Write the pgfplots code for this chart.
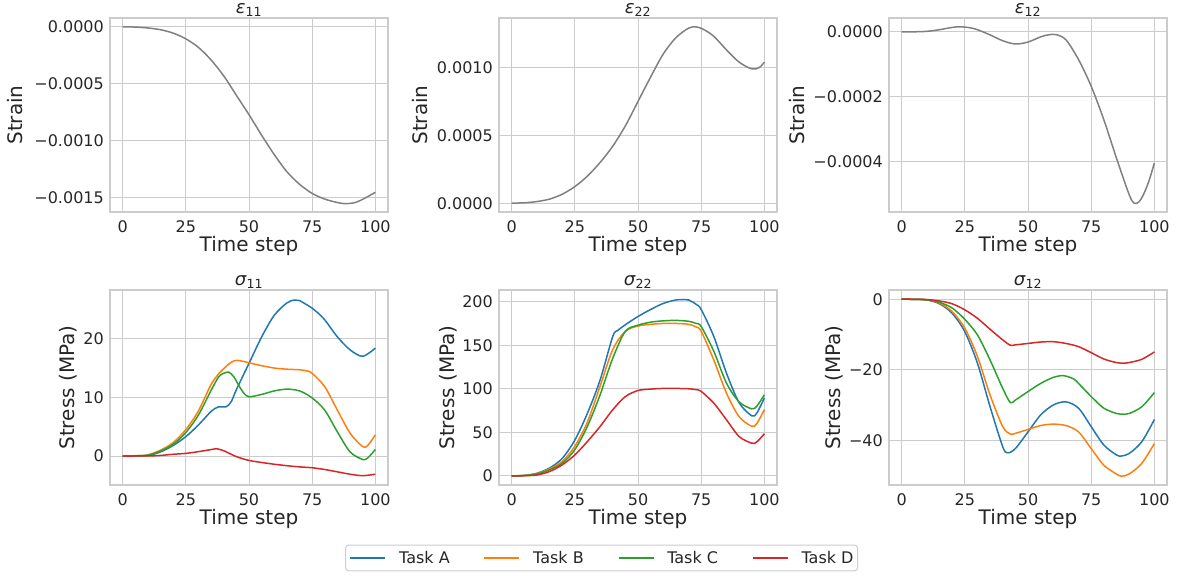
\documentclass[border=0pt]{standalone}
\usepackage{pgfplots}
\pgfplotsset{compat=1.18}
\usepackage{fontspec}
\setmainfont{DejaVu Sans}
\definecolor{gridc}{RGB}{204,204,204}
\definecolor{txt}{RGB}{38,38,38}
\definecolor{tA}{HTML}{1F77B4}
\definecolor{tB}{HTML}{FF7F0E}
\definecolor{tC}{HTML}{2CA02C}
\definecolor{tD}{HTML}{D62728}
\definecolor{gline}{HTML}{808080}
\pgfplotsset{
 myax/.style={
  scale only axis, width=278pt, height=194pt,
  xmin=-5, xmax=105, xtick={0,25,50,75,100},
  scaled y ticks=false, scaled x ticks=false,
  grid=major, major grid style={gridc, line width=1pt},
  axis line style={gridc, line width=1.25pt},
  major tick length=0pt,
  /pgf/number format/assume math mode=true,
  tick label style={font=\fontsize{16}{19}\selectfont, text=txt},
  xticklabel style={inner sep=0pt, anchor=north, yshift=-8.5pt},
  yticklabel style={inner sep=0pt, anchor=east, xshift=-6pt},
  label style={font=\fontsize{20}{24}\selectfont, text=txt},
  title style={font=\fontsize{18}{21}\selectfont, text=txt, at={(0.5,1)}, anchor=south, yshift=-5pt, inner sep=0pt},
  xlabel={Time step}, xlabel style={at={(axis description cs:0.5,-0.175)}, anchor=center},
  every axis plot/.append style={line width=1.5pt, smooth, no markers},
 }
}
\begin{document}
\begin{tikzpicture}
\path[use as bounding box] (0,0) rectangle (1186pt,-576pt);
% ---------- eps11
\begin{axis}[myax, at={(110pt,-212pt)}, anchor=south west,
  title={\textit{ε}\textsubscript{11}},
  ymin=-0.001623, ymax=0.0000775,
  ytick={-0.0015,-0.001,-0.0005,0}, yticklabels={−0.0015,−0.0010,−0.0005,0.0000},
  ylabel={Strain}, ylabel style={at={(axis description cs:-0.342,0.5)}, anchor=center}]
\addplot[gline] coordinates {(0,0) (5,-0.000002) (10,-0.00001) (15,-0.000025) (20,-0.000055) (25,-0.000105) (30,-0.00018) (35,-0.00029) (40,-0.00043) (45,-0.0006) (50,-0.00077) (55,-0.00095) (60,-0.00112) (65,-0.00127) (70,-0.00138) (75,-0.00146) (80,-0.00151) (85,-0.00154) (88,-0.00155) (92,-0.00154) (96,-0.0015) (100,-0.00145)};
\end{axis}
% ---------- eps22
\begin{axis}[myax, at={(499pt,-212pt)}, anchor=south west,
  title={\textit{ε}\textsubscript{22}},
  ymin=-0.000065, ymax=0.001365,
  ytick={0,0.0005,0.001}, yticklabels={0.0000,0.0005,0.0010},
  ylabel={Strain}, ylabel style={at={(axis description cs:-0.283,0.5)}, anchor=center}]
\addplot[gline] coordinates {(0,0) (5,0.000003) (10,0.000012) (15,0.00003) (20,0.000066) (25,0.000122) (30,0.0002) (35,0.0003) (40,0.00042) (45,0.00057) (50,0.00075) (55,0.00093) (60,0.0011) (65,0.00122) (70,0.00129) (73,0.0013) (76,0.00128) (80,0.00123) (85,0.00113) (90,0.00104) (95,0.00099) (98,0.001) (100,0.00104)};
\end{axis}
% ---------- eps12
\begin{axis}[myax, at={(889pt,-212pt)}, anchor=south west,
  title={\textit{ε}\textsubscript{12}},
  ymin=-0.000554, ymax=0.000043,
  ytick={-0.0004,-0.0002,0}, yticklabels={−0.0004,−0.0002,0.0000},
  ylabel={Strain}, ylabel style={at={(axis description cs:-0.33,0.5)}, anchor=center}]
\addplot[gline] coordinates {(0,0) (5,0.0000005) (10,0.000002) (15,0.000007) (20,0.000014) (23,0.000016) (27,0.000013) (30,0.000007) (35,-0.000009) (40,-0.000027) (45,-0.000037) (50,-0.000031) (55,-0.000015) (58,-0.000009) (61,-0.000008) (65,-0.000024) (70,-0.000085) (75,-0.000167) (80,-0.00027) (85,-0.000388) (90,-0.0005) (92,-0.000527) (94,-0.000522) (96,-0.000495) (98,-0.000455) (100,-0.000403)};
\end{axis}
% ---------- sig11
\begin{axis}[myax, at={(110pt,-485pt)}, anchor=south west, height=195pt,
  title={\textit{σ}\textsubscript{11}},
  ymin=-4.94, ymax=28.3,
  ytick={0,10,20}, yticklabels={0,10,20},
  ylabel={Stress (MPa)}, ylabel style={at={(axis description cs:-0.151,0.5)}, anchor=center}]
\addplot[tA] coordinates {(0,0) (5,0.02) (10,0.1) (15,0.7) (20,1.8) (25,3.3) (30,5.3) (35,7.6) (38,8.4) (41,8.4) (43,9.3) (45,11.3) (50,15.8) (55,20.3) (60,24) (65,26.1) (68,26.6) (70,26.5) (75,25.2) (77,24.5) (80,23.2) (85,20.3) (90,18.1) (95,17.0) (100,18.4)};
\addplot[tB] coordinates {(0,0) (5,0.05) (10,0.2) (15,1.0) (20,2.3) (25,4.5) (30,7.7) (35,12.2) (38,14.0) (40,14.9) (43,16.0) (45,16.3) (47,16.2) (50,15.9) (55,15.4) (60,15.0) (65,14.8) (70,14.7) (73,14.5) (75,14.1) (80,11.8) (85,7.8) (90,3.9) (95,1.6) (97,1.8) (100,3.6)};
\addplot[tC] coordinates {(0,0) (5,0.04) (10,0.15) (15,0.85) (20,2.0) (25,4.0) (30,7.0) (35,11.2) (38,13.5) (40,14.1) (42,14.3) (44,13.5) (46,12.0) (48,10.7) (50,10.1) (55,10.5) (60,11.1) (65,11.4) (70,11.1) (75,9.9) (80,7.8) (85,4.1) (90,0.7) (95,-0.6) (97,-0.3) (100,1.1)};
\addplot[tD] coordinates {(0,0) (10,0.02) (15,0.1) (20,0.3) (25,0.45) (30,0.75) (35,1.1) (37,1.25) (40,0.9) (45,-0.1) (50,-0.75) (55,-1.1) (60,-1.4) (65,-1.65) (70,-1.85) (75,-2.0) (80,-2.3) (85,-2.7) (90,-3.1) (95,-3.35) (100,-3.1)};
\end{axis}
% ---------- sig22
\begin{axis}[myax, at={(499pt,-485pt)}, anchor=south west, height=195pt,
  title={\textit{σ}\textsubscript{22}},
  ymin=-10.5, ymax=213.4,
  ytick={0,50,100,150,200}, yticklabels={0,50,100,150,200},
  ylabel={Stress (MPa)}, ylabel style={at={(axis description cs:-0.183,0.5)}, anchor=center},
  legend columns=4,
  legend image code/.code={\draw[#1] (0pt,0pt) -- (35pt,0pt);},
  legend style={at={(axis description cs:0.369,-0.374)}, anchor=center, draw=gridc, line width=1pt, rounded corners=3pt,
    font=\fontsize{16}{19}\selectfont, text=txt, inner xsep=4pt, inner ysep=4pt,
    nodes={inner xsep=0pt},
    /tikz/every odd column/.append style={column sep=13pt},
    /tikz/every even column/.append style={column sep=34pt}}]
\addplot[tA] coordinates {(0,0) (5,0.5) (10,3) (15,9) (20,20) (25,41) (30,72) (35,110) (40,160) (42,167) (45,173.5) (50,183) (55,191) (60,198) (65,202) (68,202.5) (70,202) (73,197) (75,191) (80,160) (85,118) (90,84) (95,69) (97,72) (100,89.5)};
\addlegendentry{Task A}
\addplot[tB] coordinates {(0,0) (5,0.4) (10,2.5) (15,8) (20,16.5) (25,34) (30,62) (35,103) (40,145) (45,166) (50,172) (55,174) (60,175) (65,175) (70,174) (73,171) (75,166) (80,133) (85,95) (90,68) (95,57) (97,60) (100,76)};
\addlegendentry{Task B}
\addplot[tC] coordinates {(0,0) (5,0.3) (10,2) (15,7) (20,14.5) (25,30) (30,57) (35,93) (40,135) (45,166) (50,173) (55,176.5) (60,178) (65,178.5) (70,177.5) (73,175) (75,171.5) (80,143) (85,106.5) (90,85) (95,77) (97,80) (100,93)};
\addlegendentry{Task C}
\addplot[tD] coordinates {(0,0) (5,0.2) (10,1) (15,5) (20,12.6) (25,24) (30,39.5) (35,56.7) (40,75.9) (45,91) (50,98) (55,99.6) (60,100.4) (65,100.4) (70,100) (73,99) (75,97) (80,83.5) (85,64.4) (90,45.2) (95,37.5) (97,39) (100,48.3)};
\addlegendentry{Task D}
\end{axis}
% ---------- sig12
\begin{axis}[myax, at={(889pt,-485pt)}, anchor=south west, height=195pt,
  title={\textit{σ}\textsubscript{12}},
  ymin=-52.5, ymax=2.6,
  ytick={-40,-20,0}, yticklabels={−40,−20,0},
  ylabel={Stress (MPa)}, ylabel style={at={(axis description cs:-0.197,0.5)}, anchor=center}]
\addplot[tA] coordinates {(0,0) (5,-0.03) (10,-0.2) (15,-1.3) (20,-4) (25,-9.2) (30,-18.1) (35,-30.4) (40,-41.7) (42,-43.4) (45,-42.2) (50,-37.5) (55,-32.7) (60,-29.9) (65,-29) (70,-30.8) (75,-36) (80,-41.2) (85,-44) (87,-44.3) (90,-43.6) (95,-40.3) (100,-34)};
\addplot[tB] coordinates {(0,0) (5,-0.03) (10,-0.2) (15,-1.1) (20,-3.5) (25,-8.2) (30,-16.2) (35,-27.1) (40,-36) (43,-38.1) (45,-37.9) (50,-36.8) (55,-35.7) (60,-35.3) (65,-35.7) (70,-37.5) (75,-42.2) (80,-46.9) (85,-49.4) (87,-50) (90,-49.4) (95,-46.4) (100,-40.8)};
\addplot[tC] coordinates {(0,0) (5,-0.03) (10,-0.2) (15,-0.9) (20,-2.5) (25,-5.7) (30,-10.1) (35,-17.2) (40,-25.2) (43,-29.2) (45,-28.5) (50,-26.1) (55,-23.8) (60,-22.1) (64,-21.6) (68,-22.5) (70,-23.8) (75,-27.5) (80,-30.8) (85,-32.3) (87,-32.5) (90,-32.3) (95,-30.4) (100,-26.4)};
\addplot[tD] coordinates {(0,0) (5,-0.02) (10,-0.1) (15,-0.5) (20,-1.3) (25,-3) (30,-5.4) (35,-8.5) (40,-11.5) (43,-13) (45,-12.9) (50,-12.5) (55,-12.1) (60,-12.0) (65,-12.5) (70,-13.4) (75,-15.1) (80,-16.9) (85,-17.9) (88,-18.1) (90,-17.9) (95,-17) (100,-14.9)};
\end{axis}
\end{tikzpicture}
\end{document}
